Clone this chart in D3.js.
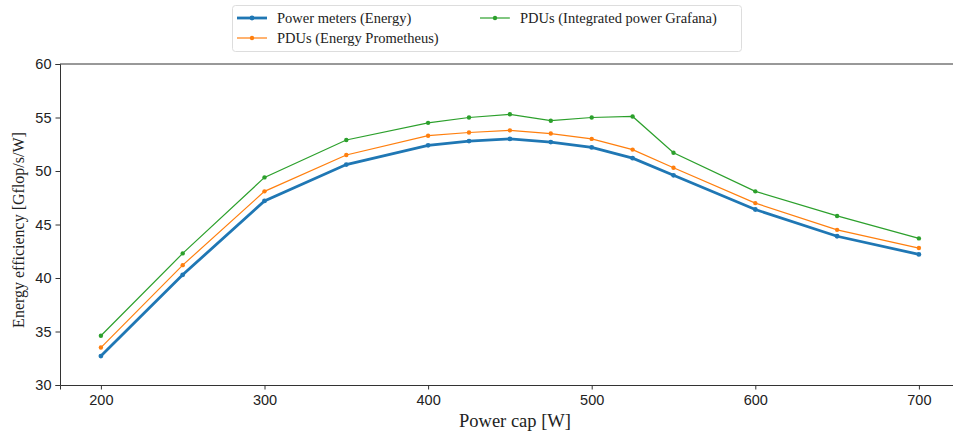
<!DOCTYPE html>
<html>
<head>
<meta charset="utf-8">
<script src="https://cdn.jsdelivr.net/npm/d3@7"></script>
<style>
  body { margin: 0; background: #fff; }
  svg { display: block; font-family: "Liberation Serif", "DejaVu Serif", serif; }
</style>
</head>
<body>
<svg id="chart" width="953" height="431"></svg>
<script>
const powerCaps = [200, 250, 300, 350, 400, 425, 450, 475, 500, 525, 550, 600, 650, 700];
const powerMeters = [32.7, 40.3, 47.2, 50.6, 52.4, 52.8, 53.0, 52.7, 52.2, 51.2, 49.6, 46.4, 43.9, 42.2];
const pduPrometheus = [33.5, 41.2, 48.1, 51.5, 53.3, 53.6, 53.8, 53.5, 53.0, 52.0, 50.3, 47.0, 44.5, 42.8];
const pduGrafana = [34.6, 42.3, 49.4, 52.9, 54.5, 55.0, 55.3, 54.7, 55.0, 55.1, 51.7, 48.1, 45.8, 43.7];
const xTicks = [200, 300, 400, 500, 600, 700];
const yTicks = [30, 35, 40, 45, 50, 55, 60];

const series = [
  { name: 'Power meters (Energy)', values: powerMeters, color: '#1f77b4', width: 2.8, r: 2.4 },
  { name: 'PDUs (Energy Prometheus)', values: pduPrometheus, color: '#ff7f0e', width: 1.2, r: 2.2 },
  { name: 'PDUs (Integrated power Grafana)', values: pduGrafana, color: '#2ca02c', width: 1.2, r: 2.2 }
];

const svg = d3.select('#chart');
const plotLeft = 60, plotTop = 64, plotBottom = 385;

const x = d3.scaleLinear().domain([175, 725]).range([plotLeft, plotLeft + 550 * 1.636]);
const y = d3.scaleLinear().domain([30, 60]).range([plotBottom, plotTop]);

// axes
svg.append('g')
   .attr('transform', `translate(0,${plotBottom})`)
   .call(d3.axisBottom(x).tickValues(xTicks).tickSize(4.5).tickPadding(5))
   .call(g => g.selectAll('text').style('font-size', '14.5px').attr('fill', '#222'));

svg.append('g')
   .attr('transform', `translate(${plotLeft},0)`)
   .call(d3.axisLeft(y).tickValues(yTicks).tickSize(4.5).tickPadding(4))
   .call(g => g.selectAll('text').style('font-size', '14.5px').attr('fill', '#222'));

// top spine (right spine falls outside the picture)
svg.append('line').attr('x1', plotLeft).attr('x2', x(725)).attr('y1', plotTop).attr('y2', plotTop)
   .attr('stroke', '#333').attr('stroke-width', 1);

svg.selectAll('.domain, .tick line').attr('stroke', '#333');

// lines + markers
const line = d3.line().x((d, i) => x(powerCaps[i])).y(d => y(d));

series.slice().reverse().forEach(s => {
  const g = svg.append('g');
  g.append('path')
   .datum(s.values)
   .attr('d', line)
   .attr('fill', 'none')
   .attr('stroke', s.color)
   .attr('stroke-width', s.width);
  g.selectAll('circle')
   .data(s.values)
   .enter()
   .append('circle')
   .attr('cx', (d, i) => x(powerCaps[i]))
   .attr('cy', d => y(d))
   .attr('r', s.r)
   .attr('fill', s.color);
});

// axis labels
svg.append('text')
   .attr('x', 515).attr('y', 427)
   .attr('text-anchor', 'middle')
   .style('font-size', '18.5px').attr('fill', '#222')
   .text('Power cap [W]');

svg.append('text')
   .attr('transform', 'translate(24,230) rotate(-90)')
   .attr('text-anchor', 'middle')
   .style('font-size', '16px').attr('fill', '#222')
   .text('Energy efficiency [Gflop/s/W]');

// legend
const legend = svg.append('g');
legend.append('rect')
      .attr('x', 232.5).attr('y', 5.5).attr('width', 509).attr('height', 46).attr('rx', 3)
      .attr('fill', '#fff').attr('stroke', '#ddd');

const legendPos = [
  { x: 237, y: 18 },
  { x: 237, y: 38 },
  { x: 480, y: 18 }
];

series.forEach((s, i) => {
  const p = legendPos[i];
  legend.append('line')
        .attr('x1', p.x).attr('x2', p.x + 30).attr('y1', p.y).attr('y2', p.y)
        .attr('stroke', s.color).attr('stroke-width', s.width);
  legend.append('circle')
        .attr('cx', p.x + 15).attr('cy', p.y).attr('r', s.r).attr('fill', s.color);
  legend.append('text')
        .attr('x', p.x + 40).attr('y', p.y).attr('dy', '0.35em')
        .style('font-size', '14.5px').attr('fill', '#222')
        .text(s.name);
});
</script>
</body>
</html>
